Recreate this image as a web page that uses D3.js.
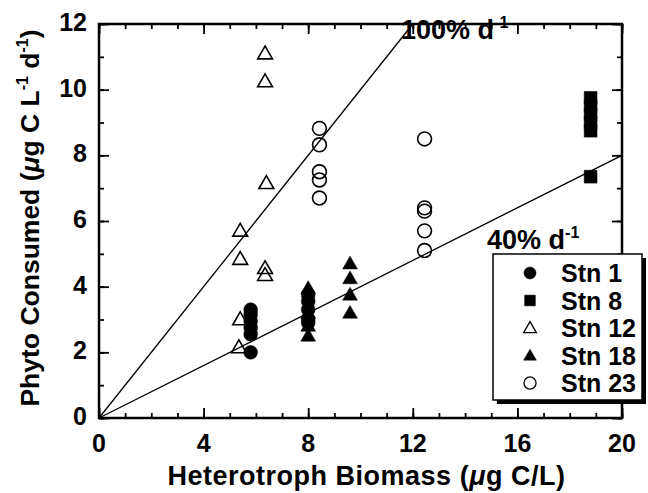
<!DOCTYPE html>
<html>
<head>
<meta charset="utf-8">
<script src="https://cdn.jsdelivr.net/npm/d3@7"></script>
<style>
  html, body { margin: 0; padding: 0; background: #fff; }
  svg { display: block; }
  text { font-family: "Liberation Sans", Arial, Helvetica, sans-serif; fill: #000; }
</style>
</head>
<body>
<svg id="chart" width="648" height="493"></svg>
<script>
// ---- data ----
const stations = ["Stn 1", "Stn 8", "Stn 12", "Stn 18", "Stn 23"];
const stn1X  = [5.8, 5.8, 5.8, 5.8, 5.8, 5.8, 8, 8, 8, 8, 8];
const stn1Y  = [3.3, 3.15, 2.95, 2.75, 2.55, 2.0, 3.75, 3.55, 3.3, 3.0, 2.9];
const stn8X  = [18.8, 18.8, 18.8, 18.8, 18.8, 18.8];
const stn8Y  = [9.75, 9.5, 9.25, 9.0, 8.75, 7.35];
const stn12X = [6.35, 6.35, 6.4, 5.4, 5.4, 6.35, 6.35, 5.4, 5.35];
const stn12Y = [11.1, 10.25, 7.15, 5.7, 4.84, 4.56, 4.35, 3.0, 2.15];
const stn18X = [8, 8, 8, 8, 9.6, 9.6, 9.6, 9.6];
const stn18Y = [3.95, 3.2, 2.8, 2.5, 4.7, 4.25, 3.75, 3.2];
const stn23X = [8.43, 8.43, 8.43, 8.43, 8.43, 12.45, 12.45, 12.45, 12.45, 12.45];
const stn23Y = [8.82, 8.32, 7.5, 7.25, 6.7, 8.5, 6.4, 6.3, 5.7, 5.1];
const rates = [1.0, 0.4];
const rateLabels = ["100%", "40%"];
const xTicks = [0, 4, 8, 12, 16, 20];
const yTicks = [0, 2, 4, 6, 8, 10, 12];

const symbols = [
  { type: d3.symbolCircle, filled: true },
  { type: d3.symbolSquare, filled: true },
  { type: d3.symbolTriangle, filled: false },
  { type: d3.symbolTriangle, filled: true },
  { type: d3.symbolCircle, filled: false }
];
const seriesX = [stn1X, stn8X, stn12X, stn18X, stn23X];
const seriesY = [stn1Y, stn8Y, stn12Y, stn18Y, stn23Y];

// ---- layout ----
const svg = d3.select("#chart");
const L = 99, R = 622, T = 24, B = 418;
const x = d3.scaleLinear().domain([0, 20]).range([L, R]);
const y = d3.scaleLinear().domain([0, 12]).range([B, T]);
const TICKFONT = 25;

// ticks (inward) on all four sides
function tickAxis(axisGen, transform, scale, majorVals, minorVals, major, minor) {
  const gMinor = svg.append("g").attr("transform", transform)
    .call(axisGen(scale).tickValues(minorVals).tickSize(minor).tickFormat(""));
  const gMajor = svg.append("g").attr("transform", transform)
    .call(axisGen(scale).tickValues(majorVals).tickSize(major).tickFormat(""));
  [gMinor, gMajor].forEach(g => {
    g.select(".domain").remove();
    g.selectAll("line").attr("stroke", "#000").attr("stroke-width", 1.8);
  });
}
const xMinor = d3.range(0, 21, 1), yMinor = d3.range(0, 13, 1);
tickAxis(d3.axisTop, `translate(0,${B})`, x, xTicks, xMinor, 10, 5);
tickAxis(d3.axisBottom, `translate(0,${T})`, x, xTicks, xMinor, 10, 5);
tickAxis(d3.axisRight, `translate(${L},0)`, y, yTicks, yMinor, 10, 5);
tickAxis(d3.axisLeft, `translate(${R},0)`, y, yTicks, yMinor, 10, 5);

// frame
svg.append("rect").attr("x", L).attr("y", T).attr("width", R - L).attr("height", B - T)
  .attr("fill", "none").attr("stroke", "#000").attr("stroke-width", 2.5);

// tick labels
svg.append("g").selectAll("text").data(xTicks).join("text")
  .attr("x", d => x(d)).attr("y", B + 34).attr("text-anchor", "middle")
  .attr("font-size", TICKFONT).attr("font-weight", "bold").text(d => d);
svg.append("g").selectAll("text").data(yTicks).join("text")
  .attr("x", L - 12).attr("y", d => y(d) + 7).attr("text-anchor", "end")
  .attr("font-size", TICKFONT).attr("font-weight", "bold").text(d => d);

// axis titles
const xt = svg.append("text").attr("x", (L + R) / 2 + 6).attr("y", 485)
  .attr("text-anchor", "middle").attr("font-size", 27).attr("font-weight", "bold")
  .attr("letter-spacing", 0.5);
xt.append("tspan").text("Heterotroph Biomass (");
xt.append("tspan").attr("font-style", "italic").text("\u03bc");
xt.append("tspan").text("g C/L)");

const yt = svg.append("text").attr("transform", `translate(39,218) rotate(-90)`)
  .attr("text-anchor", "middle").attr("font-size", 26.5).attr("font-weight", "bold");
yt.append("tspan").text("Phyto Consumed (");
yt.append("tspan").attr("font-style", "italic").text("\u03bc");
yt.append("tspan").text("g C L");
yt.append("tspan").attr("font-size", 16).attr("dy", -11).text("-1");
yt.append("tspan").attr("dy", 11).text(" d");
yt.append("tspan").attr("font-size", 16).attr("dy", -11).text("-1");
yt.append("tspan").attr("dy", 11).text(")");

// rate lines
rates.forEach(r => {
  const xEnd = Math.min(20, 12 / r);
  svg.append("line")
    .attr("x1", x(0)).attr("y1", y(0)).attr("x2", x(xEnd)).attr("y2", y(r * xEnd))
    .attr("stroke", "#000").attr("stroke-width", 1.3);
});

// rate labels
const rateLabelPos = [[401, 39], [487, 249]];
rateLabels.forEach((lab, i) => {
  const t = svg.append("text").attr("x", rateLabelPos[i][0]).attr("y", rateLabelPos[i][1])
    .attr("font-size", 27).attr("font-weight", "bold");
  t.append("tspan").text(lab + " d");
  t.append("tspan").attr("font-size", 16).attr("dy", -11).text("-1");
});

// markers
const sizes = [150, 165, 95, 95, 150];
seriesX.forEach((xs, s) => {
  const sym = d3.symbol().type(symbols[s].type).size(sizes[s]);
  svg.append("g").selectAll("path").data(xs.map((v, i) => [v, seriesY[s][i]])).join("path")
    .attr("transform", d => `translate(${x(d[0])},${y(d[1]) + (symbols[s].type === d3.symbolTriangle ? 1 : 0)})`)
    .attr("d", sym)
    .attr("fill", symbols[s].filled ? "#000" : "none")
    .attr("stroke", "#000").attr("stroke-width", symbols[s].filled ? 0.5 : 1.6);
});

// legend
const lg = svg.append("g");
lg.append("rect").attr("x", 497).attr("y", 258).attr("width", 149).attr("height", 146).attr("fill", "#000");
lg.append("rect").attr("x", 493).attr("y", 254).attr("width", 149).attr("height", 146)
  .attr("fill", "#fff").attr("stroke", "#000").attr("stroke-width", 1.5);
stations.forEach((name, i) => {
  const cy = 273 + i * 27.5;
  const tri = (i === 2 || i === 3);
  const sym = d3.symbol().type(symbols[i].type).size(tri ? 70 : 115);
  lg.append("path").attr("transform", `translate(530,${cy + (tri ? 1 : 0)})`).attr("d", sym)
    .attr("fill", symbols[i].filled ? "#000" : "none").attr("stroke", "#000")
    .attr("stroke-width", symbols[i].filled ? 0.5 : 1.3);
  lg.append("text").attr("x", 561).attr("y", cy + 9).attr("font-size", 25).attr("font-weight", "bold").text(name);
});
</script>
</body>
</html>
